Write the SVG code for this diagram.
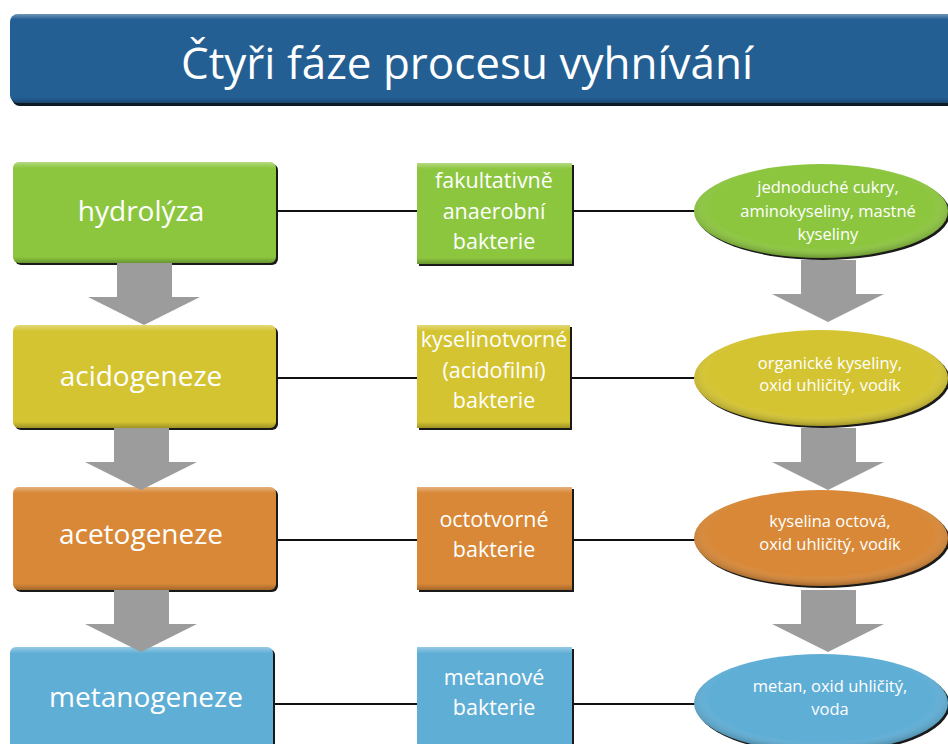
<svg xmlns="http://www.w3.org/2000/svg" width="948" height="744" viewBox="0 0 948 744">
<defs>
<linearGradient id="gloss" x1="0" y1="0" x2="0" y2="1">
<stop offset="0" stop-color="#fff" stop-opacity="0.35"/>
<stop offset="0.06" stop-color="#fff" stop-opacity="0"/>
<stop offset="0.94" stop-color="#000" stop-opacity="0"/>
<stop offset="1" stop-color="#000" stop-opacity="0.25"/>
</linearGradient>
<radialGradient id="eglow" cx="0.5" cy="0.45" r="0.55">
<stop offset="0.8" stop-color="#fff" stop-opacity="0"/>
<stop offset="1" stop-color="#000" stop-opacity="0.25"/>
</radialGradient>
<path id="arrow" d="M -27,0 H 28 V 34 H 56 L 0,62 L -56,34 H -27 Z"/>
</defs>
<style>
.sh{fill:#1a1a1a;}
.g{fill:#8CC63F;}
.y{fill:#D4C431;}
.o{fill:#D88837;}
.b{fill:#5FAED6;}
.gl{fill:url(#gloss);}
.eg{fill:url(#eglow);}
.t{font-family:"Open Sans","Liberation Sans",sans-serif;fill:#fff;text-anchor:middle;}
.big{font-size:28px;}
.mid{font-size:21.5px;}
.sm{font-size:16.5px;}
.ar{fill:#9C9C9C;}
.ln{stroke:#111;stroke-width:2;fill:none;}
</style>
<rect width="948" height="744" fill="#fff"/>

<g id="title">
<rect x="12" y="17" width="960" height="89" rx="8" fill="#0d1a26"/>
<rect x="10" y="14" width="960" height="89" rx="8" fill="#245F94"/>
<rect x="10" y="14" width="960" height="89" rx="8" class="gl"/>
<text x="467" y="79" class="t" style="font-size:44px">Čtyři fáze procesu vyhnívání</text>
</g>

<g id="connectors">
<line class="ln" x1="276" y1="211" x2="417" y2="211"/>
<line class="ln" x1="572" y1="211" x2="696" y2="211"/>
<line class="ln" x1="276" y1="378" x2="417" y2="378"/>
<line class="ln" x1="570" y1="378" x2="696" y2="378"/>
<line class="ln" x1="276" y1="540" x2="417" y2="540"/>
<line class="ln" x1="572" y1="540" x2="696" y2="540"/>
<line class="ln" x1="272" y1="704" x2="417" y2="704"/>
<line class="ln" x1="572" y1="704" x2="696" y2="704"/>
</g>

<g id="hydrolyza">
<rect x="15" y="164" width="263" height="101" rx="6" class="sh"/>
<rect x="13" y="162" width="263" height="101" rx="6" class="g"/>
<rect x="13" y="162" width="263" height="101" rx="6" class="gl"/>
<text x="141" y="221" class="t big">hydrolýza</text>
</g>
<g id="acidogeneze">
<rect x="15" y="327" width="263" height="103" rx="6" class="sh"/>
<rect x="13" y="325" width="263" height="103" rx="6" class="y"/>
<rect x="13" y="325" width="263" height="103" rx="6" class="gl"/>
<text x="141" y="386" class="t big">acidogeneze</text>
</g>
<g id="acetogeneze">
<rect x="15" y="489" width="263" height="103" rx="6" class="sh"/>
<rect x="13" y="487" width="263" height="103" rx="6" class="o"/>
<rect x="13" y="487" width="263" height="103" rx="6" class="gl"/>
<text x="141" y="544" class="t big">acetogeneze</text>
</g>
<g id="metanogeneze">
<rect x="12" y="649" width="263" height="110" rx="6" class="sh"/>
<rect x="10" y="647" width="263" height="110" rx="6" class="b"/>
<rect x="10" y="647" width="263" height="110" rx="6" class="gl"/>
<text x="146" y="707" class="t big">metanogeneze</text>
</g>

<g id="fakultativne">
<rect x="419" y="165" width="155" height="101" class="sh"/>
<rect x="417" y="163" width="155" height="101" class="g"/>
<rect x="417" y="163" width="155" height="101" class="gl"/>
<text x="494" y="188" class="t mid">fakultativně</text>
<text x="494" y="219" class="t mid">anaerobní</text>
<text x="494" y="249" class="t mid">bakterie</text>
</g>
<g id="kyselinotvorne">
<rect x="419" y="327" width="153" height="103" class="sh"/>
<rect x="417" y="325" width="153" height="103" class="y"/>
<rect x="417" y="325" width="153" height="103" class="gl"/>
<text x="494" y="347" class="t mid">kyselinotvorné</text>
<text x="494" y="378" class="t mid">(acidofilní)</text>
<text x="494" y="408" class="t mid">bakterie</text>
</g>
<g id="octotvorne">
<rect x="419" y="489" width="155" height="103" class="sh"/>
<rect x="417" y="487" width="155" height="103" class="o"/>
<rect x="417" y="487" width="155" height="103" class="gl"/>
<text x="494" y="527" class="t mid">octotvorné</text>
<text x="494" y="557" class="t mid">bakterie</text>
</g>
<g id="metanove">
<rect x="419" y="649" width="155" height="110" class="sh"/>
<rect x="417" y="647" width="155" height="110" class="b"/>
<rect x="417" y="647" width="155" height="110" class="gl"/>
<text x="494" y="685" class="t mid">metanové</text>
<text x="494" y="715" class="t mid">bakterie</text>
</g>

<g id="produkty1">
<ellipse cx="823" cy="213" rx="127" ry="47" class="sh"/>
<ellipse cx="821" cy="211" rx="127" ry="47" class="g"/>
<ellipse cx="821" cy="211" rx="127" ry="47" class="eg"/>
<text x="828" y="193" class="t sm">jednoduché cukry,</text>
<text x="828" y="217" class="t sm">aminokyseliny, mastné</text>
<text x="828" y="240" class="t sm">kyseliny</text>
</g>
<g id="produkty2">
<ellipse cx="823" cy="380" rx="127" ry="48" class="sh"/>
<ellipse cx="821" cy="378" rx="127" ry="48" class="y"/>
<ellipse cx="821" cy="378" rx="127" ry="48" class="eg"/>
<text x="830" y="369" class="t sm">organické kyseliny,</text>
<text x="830" y="391" class="t sm">oxid uhličitý, vodík</text>
</g>
<g id="produkty3">
<ellipse cx="823" cy="540" rx="127" ry="48" class="sh"/>
<ellipse cx="821" cy="538" rx="127" ry="48" class="o"/>
<ellipse cx="821" cy="538" rx="127" ry="48" class="eg"/>
<text x="830" y="527" class="t sm">kyselina octová,</text>
<text x="830" y="550" class="t sm">oxid uhličitý, vodík</text>
</g>
<g id="produkty4">
<ellipse cx="823" cy="705" rx="127" ry="49" class="sh"/>
<ellipse cx="821" cy="703" rx="127" ry="49" class="b"/>
<ellipse cx="821" cy="703" rx="127" ry="49" class="eg"/>
<text x="830" y="692" class="t sm">metan, oxid uhličitý,</text>
<text x="830" y="715" class="t sm">voda</text>
</g>

<g id="flow-arrows">
<use href="#arrow" class="ar" x="144" y="263"/>
<use href="#arrow" class="ar" x="141" y="428"/>
<use href="#arrow" class="ar" x="141" y="590"/>
<use href="#arrow" class="ar" x="828" y="260"/>
<use href="#arrow" class="ar" x="828" y="428"/>
<use href="#arrow" class="ar" x="828" y="590"/>
</g>
</svg>
